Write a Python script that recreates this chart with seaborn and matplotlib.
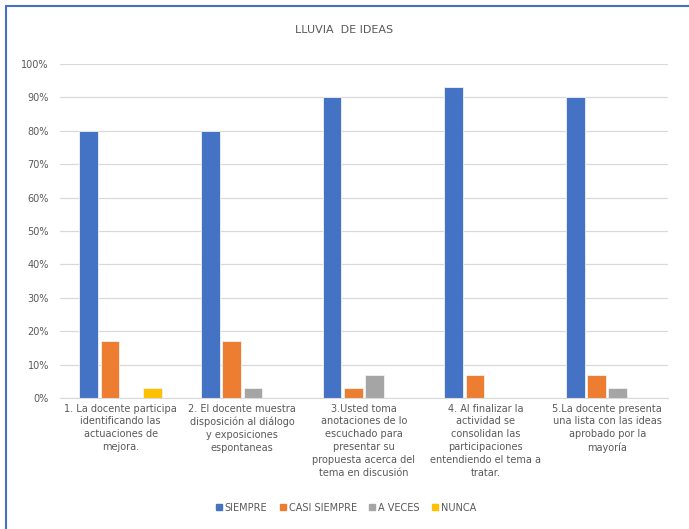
import matplotlib
matplotlib.use("Agg")
import matplotlib.pyplot as plt
import seaborn as sns
import pandas as pd
from matplotlib.ticker import FuncFormatter, MultipleLocator
from matplotlib.lines import Line2D

categories = [
    "1. La docente participa\nidentificando las\nactuaciones de\nmejora.",
    "2. El docente muestra\ndisposición al diálogo\ny exposiciones\nespontaneas",
    "3.Usted toma\nanotaciones de lo\nescuchado para\npresentar su\npropuesta acerca del\ntema en discusión",
    "4. Al finalizar la\nactividad se\nconsolidan las\nparticipaciones\nentendiendo el tema a\ntratar.",
    "5.La docente presenta\nuna lista con las ideas\naprobado por la\nmayoría",
]
series_names = ["SIEMPRE", "CASI SIEMPRE", "A VECES", "NUNCA"]
siempre = [80, 80, 90, 93, 90]
casi_siempre = [17, 17, 3, 7, 7]
a_veces = [0, 3, 7, 0, 3]
nunca = [3, 0, 0, 0, 0]
colors = ["#4472C4", "#ED7D31", "#A5A5A5", "#FFC000"]

rows = []
for name, vals in zip(series_names, [siempre, casi_siempre, a_veces, nunca]):
    for c, v in zip(categories, vals):
        rows.append({"cat": c, "serie": name, "val": v})
df = pd.DataFrame(rows)

sns.set_style("white")
plt.rcParams['font.family'] = ['DejaVu Sans']
txt = "#595959"

fig = plt.figure(figsize=(6.89, 5.29), dpi=100)
ax = fig.add_axes([0.087, 0.2476, 0.8825, 0.6314])

sns.barplot(data=df, x="cat", y="val", hue="serie", order=categories,
            hue_order=series_names, palette=colors, width=0.7, gap=0.12,
            saturation=1, ax=ax, legend=False, linewidth=0.6, edgecolor="#F2F2F2")

ax.set_ylim(0, 100)
ax.yaxis.set_major_locator(MultipleLocator(10))
ax.yaxis.set_major_formatter(FuncFormatter(lambda v, p: f"{v:.0f}%"))
ax.grid(axis="y", color="#D9D9D9", linewidth=0.9)
ax.set_axisbelow(True)
for s in ["top", "right", "left"]:
    ax.spines[s].set_visible(False)
ax.spines["bottom"].set_color("#D9D9D9")
ax.set_xlabel("")
ax.set_ylabel("")
ax.tick_params(axis="y", length=0, labelsize=7, labelcolor=txt, pad=8)
ax.tick_params(axis="x", length=0, labelsize=7, labelcolor=txt, pad=4)
for lab in ax.get_xticklabels():
    lab.set_linespacing(1.35)
ax.set_xlim(-0.5, 4.5)

fig.text(0.5, 0.943, "LLUVIA  DE IDEAS", ha="center", va="center", fontsize=8, color=txt)

handles = [Line2D([], [], marker="s", linestyle="", color=c, markersize=4) for c in colors]
fig.legend(handles, series_names, loc="center", bbox_to_anchor=(0.5, 0.04), ncol=4,
           frameon=False, fontsize=7, labelcolor=txt, handletextpad=0.0, columnspacing=1.0,
           handlelength=1.2)

# chart frame (blue border top and left)
fig.add_artist(Line2D([0.0087, 1.0], [0.9887, 0.9887], transform=fig.transFigure, color="#4472C4", linewidth=1.5))
fig.add_artist(Line2D([0.0087, 0.0087], [0.0, 0.9887], transform=fig.transFigure, color="#4472C4", linewidth=1.5))

fig.savefig("out.png", dpi=100)
